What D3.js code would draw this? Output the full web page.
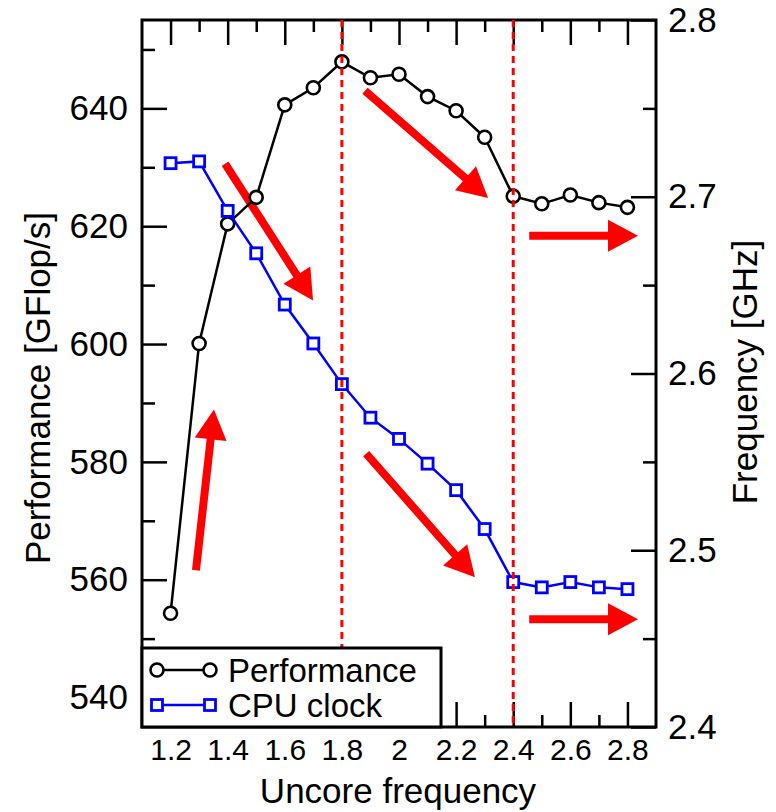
<!DOCTYPE html>
<html>
<head>
<meta charset="utf-8">
<script src="https://cdn.jsdelivr.net/npm/d3@7/dist/d3.min.js"></script>
<style>
  body { margin: 0; background: #fff; }
  svg { font-family: "Liberation Sans", Arial, Helvetica, sans-serif; }
</style>
</head>
<body>
<div class="chart"></div>
<script>
// uncore frequency sweep: performance (left axis) and cpu clock (right axis)

const uncore = [1.2, 1.3, 1.4, 1.5, 1.6, 1.7, 1.8, 1.9, 2.0, 2.1, 2.2, 2.3, 2.4, 2.5, 2.6, 2.7, 2.8];
const performance = [554.3, 600.1, 620.4, 624.9, 640.6, 643.5, 647.9, 645.2, 645.8, 642.0, 639.6, 635.1, 625.1, 623.8, 625.3, 624.0, 623.2];
const cpuClock = [2.719, 2.720, 2.692, 2.668, 2.639, 2.617, 2.594, 2.575, 2.563, 2.549, 2.534, 2.512, 2.482, 2.479, 2.482, 2.479, 2.478];

const xTicks = [1.2, 1.4, 1.6, 1.8, 2.0, 2.2, 2.4, 2.6, 2.8];
const xTickLabels = ['1.2', '1.4', '1.6', '1.8', '2', '2.2', '2.4', '2.6', '2.8'];
const perfTicks = [540, 560, 580, 600, 620, 640];
const freqTicks = [2.4, 2.5, 2.6, 2.7, 2.8];

// dashed markers at these uncore frequencies
const markers = [1.8, 2.4];

// arrows [x0, perf0, x1, perf1] in data units (left axis)
const arrows = [
  [1.289, 561.6, 1.352, 588.9],
  [1.391, 630.6, 1.699, 607.4],
  [1.881, 643.0, 2.312, 624.8],
  [2.456, 618.4, 2.837, 618.4],
  [1.885, 581.4, 2.266, 560.4],
  [2.456, 553.3, 2.837, 553.3]
];

const width = 776;
const height = 812;
const margin = { left: 142, right: 120, top: 20, bottom: 85 };
const x0 = margin.left, x1 = width - margin.right;
const y0 = margin.top, y1 = height - margin.bottom;

const svg = d3.select('.chart')
  .append('svg')
  .attr('width', width)
  .attr('height', height);

const x = d3.scaleLinear().domain([1.1, 2.9]).range([x0, x1]);
const yPerf = d3.scaleLinear().domain([535, 655]).range([y1, y0]);
const yFreq = d3.scaleLinear().domain([2.4, 2.8]).range([y1, y0]);

const minorX = d3.range(1.3, 2.9, 0.2);
const minorPerf = d3.range(550, 660, 20);
const minorFreq = d3.range(2.45, 2.8, 0.1);

function styleAxis(g, fontSize) {
  g.select('.domain').remove();
  g.selectAll('line').attr('stroke', '#000').attr('stroke-width', 2.5);
  g.selectAll('text').attr('font-size', fontSize).attr('fill', '#000');
}

// bottom
svg.append('g')
  .attr('transform', `translate(0,${y1})`)
  .call(d3.axisBottom(x).tickValues(xTicks).tickSizeInner(-25).tickSizeOuter(0).tickPadding(12)
    .tickFormat((d, i) => xTickLabels[i]))
  .call(g => styleAxis(g, 30))
  .call(g => g.selectAll('text').attr('dy', '0.71em'));
svg.append('g')
  .attr('transform', `translate(0,${y1})`)
  .call(d3.axisBottom(x).tickValues(minorX).tickSizeInner(-12).tickSizeOuter(0).tickFormat(''))
  .call(g => styleAxis(g, 0));

// top
svg.append('g')
  .attr('transform', `translate(0,${y0})`)
  .call(d3.axisTop(x).tickValues(xTicks).tickSizeInner(-25).tickSizeOuter(0).tickFormat(''))
  .call(g => styleAxis(g, 0));
svg.append('g')
  .attr('transform', `translate(0,${y0})`)
  .call(d3.axisTop(x).tickValues(minorX).tickSizeInner(-12).tickSizeOuter(0).tickFormat(''))
  .call(g => styleAxis(g, 0));

// left
svg.append('g')
  .attr('transform', `translate(${x0},0)`)
  .call(d3.axisLeft(yPerf).tickValues(perfTicks).tickSizeInner(-25).tickSizeOuter(0).tickPadding(14))
  .call(g => styleAxis(g, 35));
svg.append('g')
  .attr('transform', `translate(${x0},0)`)
  .call(d3.axisLeft(yPerf).tickValues(minorPerf).tickSizeInner(-13).tickSizeOuter(0).tickFormat(''))
  .call(g => styleAxis(g, 0));

// right
svg.append('g')
  .attr('transform', `translate(${x1},0)`)
  .call(d3.axisRight(yFreq).tickValues(freqTicks).tickSizeInner(-25).tickSizeOuter(0).tickPadding(12)
    .tickFormat(d3.format('.1f')))
  .call(g => styleAxis(g, 35));
svg.append('g')
  .attr('transform', `translate(${x1},0)`)
  .call(d3.axisRight(yFreq).tickValues(minorFreq).tickSizeInner(-13).tickSizeOuter(0).tickFormat(''))
  .call(g => styleAxis(g, 0));

// frame
svg.append('rect')
  .attr('x', x0).attr('y', y0)
  .attr('width', x1 - x0).attr('height', y1 - y0)
  .attr('fill', 'none')
  .attr('stroke', '#000')
  .attr('stroke-width', 3);

// axis titles
svg.append('text')
  .attr('x', (x0 + x1) / 2 - 1).attr('y', 803)
  .attr('text-anchor', 'middle')
  .attr('font-size', 35)
  .text('Uncore frequency');

svg.append('text')
  .attr('transform', 'translate(50,388) rotate(-90)')
  .attr('text-anchor', 'middle')
  .attr('font-size', 35)
  .text('Performance [GFlop/s]');

svg.append('text')
  .attr('transform', 'translate(757,372) rotate(-90)')
  .attr('text-anchor', 'middle')
  .attr('font-size', 35)
  .text('Frequency [GHz]');

// red arrows
const shaft = 4, headLen = 30, headHalf = 16;
svg.append('g')
  .selectAll('path')
  .data(arrows)
  .enter()
    .append('path')
    .attr('fill', '#ff0000')
    .attr('d', d => {
      const ax = x(d[0]), ay = yPerf(d[1]);
      const bx = x(d[2]), by = yPerf(d[3]);
      const len = Math.hypot(bx - ax, by - ay);
      const ux = (bx - ax) / len, uy = (by - ay) / len;
      const nx = -uy, ny = ux;
      const hx = bx - ux * headLen, hy = by - uy * headLen;
      const p = [
        [ax + nx * shaft, ay + ny * shaft],
        [hx + nx * shaft, hy + ny * shaft],
        [hx + nx * headHalf, hy + ny * headHalf],
        [bx, by],
        [hx - nx * headHalf, hy - ny * headHalf],
        [hx - nx * shaft, hy - ny * shaft],
        [ax - nx * shaft, ay - ny * shaft]
      ];
      return 'M' + p.map(q => q.join(',')).join('L') + 'Z';
    });

// performance series
const perfLine = d3.line().x((d, i) => x(uncore[i])).y(d => yPerf(d));
svg.append('path')
  .attr('d', perfLine(performance))
  .attr('fill', 'none')
  .attr('stroke', '#000')
  .attr('stroke-width', 2.5);
svg.append('g')
  .selectAll('circle')
  .data(performance)
  .enter()
    .append('circle')
    .attr('cx', (d, i) => x(uncore[i]))
    .attr('cy', d => yPerf(d))
    .attr('r', 6.5)
    .attr('fill', '#fff')
    .attr('stroke', '#000')
    .attr('stroke-width', 2.6);

// cpu clock series
const sq = 11;
const freqLine = d3.line().x((d, i) => x(uncore[i])).y(d => yFreq(d));
svg.append('path')
  .attr('d', freqLine(cpuClock))
  .attr('fill', 'none')
  .attr('stroke', '#0000ff')
  .attr('stroke-width', 2.5);
svg.append('g')
  .selectAll('rect')
  .data(cpuClock)
  .enter()
    .append('rect')
    .attr('x', (d, i) => x(uncore[i]) - sq / 2)
    .attr('y', d => yFreq(d) - sq / 2)
    .attr('width', sq).attr('height', sq)
    .attr('fill', '#fff')
    .attr('stroke', '#0000ff')
    .attr('stroke-width', 2.8);

// dashed markers
svg.append('g')
  .selectAll('line')
  .data(markers)
  .enter()
    .append('line')
    .attr('x1', d => x(d)).attr('x2', d => x(d))
    .attr('y1', y0).attr('y2', y1)
    .attr('stroke', '#ff0000')
    .attr('stroke-width', 3)
    .attr('stroke-dasharray', '7,5');

// legend
const legend = svg.append('g');
legend.append('rect')
  .attr('x', x0).attr('y', 648)
  .attr('width', 299).attr('height', y1 - 648)
  .attr('fill', '#fff')
  .attr('stroke', '#000')
  .attr('stroke-width', 3);

const legendRows = [
  { label: 'Performance', color: '#000', shape: 'circle', y: 670 },
  { label: 'CPU clock', color: '#0000ff', shape: 'square', y: 705 }
];
legendRows.forEach(r => {
  legend.append('line')
    .attr('x1', 157).attr('x2', 210)
    .attr('y1', r.y).attr('y2', r.y)
    .attr('stroke', r.color)
    .attr('stroke-width', 2.5);
  [157, 210].forEach(cx => {
    if (r.shape === 'circle') {
      legend.append('circle')
        .attr('cx', cx).attr('cy', r.y).attr('r', 6.5)
        .attr('fill', '#fff').attr('stroke', r.color).attr('stroke-width', 2.6);
    } else {
      legend.append('rect')
        .attr('x', cx - sq / 2).attr('y', r.y - sq / 2)
        .attr('width', sq).attr('height', sq)
        .attr('fill', '#fff').attr('stroke', r.color).attr('stroke-width', 2.8);
    }
  });
  legend.append('text')
    .attr('x', 228).attr('y', r.y)
    .attr('dy', '0.36em')
    .attr('font-size', 33)
    .text(r.label);
});
</script>
</body>
</html>
